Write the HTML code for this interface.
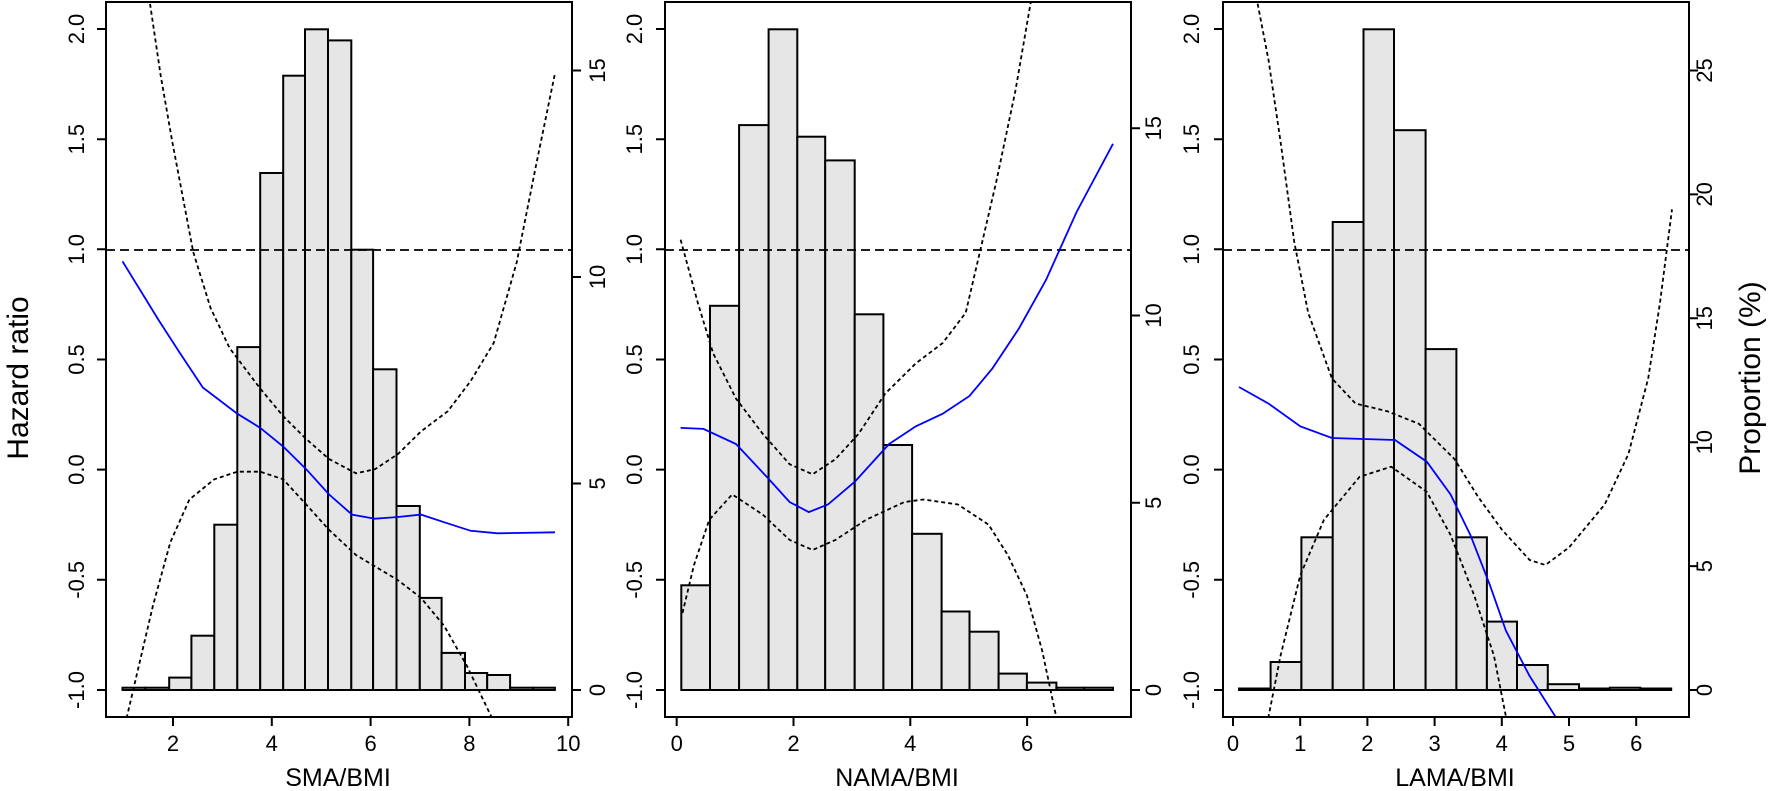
<!DOCTYPE html>
<html><head><meta charset="utf-8"><style>
html,body{margin:0;padding:0;background:#fff;}
svg{display:block;}
text{font-family:"Liberation Sans",Arial,sans-serif;fill:#000;}
</style></head><body>
<svg width="1770" height="791" viewBox="0 0 1770 791" xmlns="http://www.w3.org/2000/svg">
<defs>
<clipPath id="c1"><rect x="106" y="2" width="466" height="715"/></clipPath>
<clipPath id="c2"><rect x="665" y="2" width="466" height="715"/></clipPath>
<clipPath id="c3"><rect x="1223" y="2" width="466" height="715"/></clipPath>
</defs>
<g stroke="#000" stroke-width="2" fill="#e6e6e6">
<!-- panel1 bars -->
<rect x="122.5" y="687.7" width="22.9" height="2.3"/><rect x="145.4" y="687.7" width="23.8" height="2.3"/><rect x="169.2" y="677.6" width="22.2" height="12.4"/><rect x="191.4" y="635.7" width="22.9" height="54.3"/><rect x="214.3" y="524.7" width="23" height="165.3"/><rect x="237.3" y="347.1" width="22.9" height="342.9"/><rect x="260.2" y="173" width="23" height="517"/><rect x="283.2" y="75.7" width="21.8" height="614.3"/><rect x="305" y="29.3" width="23" height="660.7"/><rect x="328" y="40.4" width="23.3" height="649.6"/><rect x="351.3" y="249.7" width="21.8" height="440.3"/><rect x="373.1" y="369.3" width="23.4" height="320.7"/><rect x="396.5" y="506" width="23.3" height="184"/><rect x="419.8" y="597.9" width="21.8" height="92.1"/><rect x="441.6" y="652.9" width="23.4" height="37.1"/><rect x="465" y="673" width="22.2" height="17"/><rect x="487.2" y="675" width="22.9" height="15"/><rect x="510.1" y="687.7" width="23" height="2.3"/><rect x="533.1" y="687.7" width="21.8" height="2.3"/>
<!-- panel2 bars -->
<rect x="681.3" y="585.3" width="28.7" height="104.7"/><rect x="710" y="305.8" width="29.1" height="384.2"/><rect x="739.1" y="125.1" width="29.5" height="564.9"/><rect x="768.6" y="29.3" width="28.7" height="660.7"/><rect x="797.3" y="136.7" width="27.9" height="553.3"/><rect x="825.2" y="160.4" width="29.5" height="529.6"/><rect x="854.7" y="314.3" width="28.7" height="375.7"/><rect x="883.4" y="445" width="28.7" height="245"/><rect x="912.1" y="533.8" width="29.5" height="156.2"/><rect x="941.6" y="611.5" width="27.9" height="78.5"/><rect x="969.5" y="631.7" width="29.1" height="58.3"/><rect x="998.6" y="673.6" width="28.3" height="16.4"/><rect x="1026.9" y="682.6" width="29.5" height="7.4"/><rect x="1056.4" y="687.7" width="27.9" height="2.3"/><rect x="1084.3" y="687.7" width="28.7" height="2.3"/>
<!-- panel3 bars -->
<rect x="1239" y="688.5" width="31.6" height="1.5"/><rect x="1270.6" y="662" width="30.8" height="28"/><rect x="1301.4" y="537.3" width="31.3" height="152.7"/><rect x="1332.7" y="222" width="30.8" height="468"/><rect x="1363.5" y="29.3" width="30.5" height="660.7"/><rect x="1394" y="130.2" width="31.6" height="559.8"/><rect x="1425.6" y="349.1" width="30.8" height="340.9"/><rect x="1456.4" y="537.3" width="30.5" height="152.7"/><rect x="1486.9" y="621.6" width="30.1" height="68.4"/><rect x="1517" y="665" width="30.8" height="25"/><rect x="1547.8" y="684.2" width="31.2" height="5.8"/><rect x="1579" y="688.5" width="30.9" height="1.5"/><rect x="1609.9" y="687.7" width="30.4" height="2.3"/><rect x="1640.3" y="688.5" width="30.9" height="1.5"/>
</g>
<g fill="none" stroke-width="1.8">
<g clip-path="url(#c1)">
<line x1="106" y1="250" x2="572" y2="250" stroke="#000" stroke-dasharray="9,5"/>
<polyline stroke="#0000ff" points="122.5,261.4 158.8,320.4 179.9,353 202.8,387.5 237.3,413.7 260.2,427.8 283.2,446.5 306.2,469.2 329,494.4 352,514.6 375,518.7 398,517 421,514.6 444,522.2 470.7,530.8 497.5,533.3 555,532.3"/>
<polyline stroke="#000" stroke-dasharray="4,3" points="148,-10 160.7,75.7 172.2,141.3 193.3,252.3 210.5,307.8 229.6,348.1 260.2,388.5 283.2,416.2 306.2,439 329,459 356,473.3 375,469.2 398,454 421,431.4 447.8,411.2 470.7,381 493.7,343 516.7,262.4 535.8,166.5 555,73.2"/>
<polyline stroke="#000" stroke-dasharray="4,3" points="125,725 127,716.4 153,605.4 170.3,542.4 189.4,499.5 214.3,479.3 237.3,471.7 260.2,471.7 283.2,479.3 306.2,504.5 329,529.8 356,555 398,580.2 421,597.9 444,625.6 467,666 491,716 494,725"/>
</g>
<g clip-path="url(#c2)">
<line x1="665" y1="250" x2="1131" y2="250" stroke="#000" stroke-dasharray="9,5"/>
<polyline stroke="#0000ff" points="680.6,427.9 703.5,428.9 736,444 766.7,476.8 789.6,502 808.8,512.1 827.9,504.5 854.7,481.8 889.1,444 915.9,426.3 942.7,413.7 969.5,396 992.5,368.3 1019.2,328 1046,280 1076.6,212 1113,143.8"/>
<polyline stroke="#000" stroke-dasharray="4,3" points="680.6,239.7 697.8,302.7 713.1,353.2 736,398.6 762.8,433.9 789.6,464.2 812.6,474.3 835.5,459.1 858.5,433.9 885.3,393.5 915.9,363.3 942.7,343 965.7,312.8 981,247.2 996.3,181.6 1015.4,90.8 1030.7,2.5 1032,-10"/>
<polyline stroke="#000" stroke-dasharray="4,3" points="682.5,613 694,565 709.3,519.7 732.2,494.4 762.8,514.6 789.6,539.9 812.6,550 835.5,539.9 866.2,519.7 904.4,502 923.6,499.5 958,504.5 988.6,524.7 1007.8,555 1026.9,595.4 1042.2,650.8 1055.6,714 1057,725"/>
</g>
<g clip-path="url(#c3)">
<line x1="1223" y1="250" x2="1689" y2="250" stroke="#000" stroke-dasharray="9,5"/>
<polyline stroke="#0000ff" points="1239,387 1268.6,403.6 1300.3,426.3 1331.9,438 1363.5,439 1395,440 1426.8,461.7 1450.5,494.4 1470.3,534.8 1490,585.3 1505.9,630.7 1529.6,676 1555.3,716.4 1560,725"/>
<polyline stroke="#000" stroke-dasharray="4,3" points="1255,-10 1268.6,60.5 1280.5,141.3 1294.3,242.2 1308.2,312.8 1331.9,378.4 1355.6,403.6 1387.2,411.2 1418.9,423.8 1454.5,459.1 1478.2,497 1502,529.8 1529.6,560 1545.4,565 1569.1,547.4 1604.7,504.5 1628.4,454.1 1648.2,378.4 1660,302.7 1672,209.4"/>
<polyline stroke="#000" stroke-dasharray="4,3" points="1267,725 1268.6,716.4 1280.5,655.9 1300.3,575.2 1324,519.7 1359.6,476.8 1391.2,466.7 1426.8,491.9 1450.5,534.8 1474.2,595.4 1494,655.9 1505.9,716.4 1507,725"/>
</g>
</g>
<!-- boxes -->
<g fill="none" stroke="#000" stroke-width="2">
<rect x="106" y="2" width="466" height="715"/>
<rect x="665" y="2" width="466" height="715"/>
<rect x="1223" y="2" width="466" height="715"/>
<!-- left HR ticks -->
<path d="M106 29h-9M106 139.2h-9M106 249.3h-9M106 359.5h-9M106 469.6h-9M106 579.8h-9M106 690h-9"/>
<path d="M665 29h-9M665 139.2h-9M665 249.3h-9M665 359.5h-9M665 469.6h-9M665 579.8h-9M665 690h-9"/>
<path d="M1223 29h-9M1223 139.2h-9M1223 249.3h-9M1223 359.5h-9M1223 469.6h-9M1223 579.8h-9M1223 690h-9"/>
<!-- right ticks -->
<path d="M572 690h9M572 483.5h9M572 277h9M572 70.5h9"/>
<path d="M1131 690h9M1131 502.7h9M1131 315.5h9M1131 128.3h9"/>
<path d="M1689 690h9M1689 566.1h9M1689 442.2h9M1689 318.3h9M1689 194.4h9M1689 70.5h9"/>
<!-- bottom ticks -->
<path d="M173 717v9M271.8 717v9M370.6 717v9M469.4 717v9M568.2 717v9"/>
<path d="M676.7 717v9M793.5 717v9M910.3 717v9M1027.1 717v9"/>
<path d="M1233 717v9M1300.2 717v9M1367.4 717v9M1434.6 717v9M1501.8 717v9M1569 717v9M1636.2 717v9"/>
</g>
<g font-size="22" text-anchor="middle">
<!-- left HR labels -->
<g id="hr1">
<text transform="translate(84,29) rotate(-90)">2.0</text>
<text transform="translate(84,139.2) rotate(-90)">1.5</text>
<text transform="translate(84,249.3) rotate(-90)">1.0</text>
<text transform="translate(84,359.5) rotate(-90)">0.5</text>
<text transform="translate(84,469.6) rotate(-90)">0.0</text>
<text transform="translate(84,579.8) rotate(-90)">-0.5</text>
<text transform="translate(84,690) rotate(-90)">-1.0</text>
</g>
<text transform="translate(642,29) rotate(-90)">2.0</text>
<text transform="translate(642,139.2) rotate(-90)">1.5</text>
<text transform="translate(642,249.3) rotate(-90)">1.0</text>
<text transform="translate(642,359.5) rotate(-90)">0.5</text>
<text transform="translate(642,469.6) rotate(-90)">0.0</text>
<text transform="translate(642,579.8) rotate(-90)">-0.5</text>
<text transform="translate(642,690) rotate(-90)">-1.0</text>
<text transform="translate(1199,29) rotate(-90)">2.0</text>
<text transform="translate(1199,139.2) rotate(-90)">1.5</text>
<text transform="translate(1199,249.3) rotate(-90)">1.0</text>
<text transform="translate(1199,359.5) rotate(-90)">0.5</text>
<text transform="translate(1199,469.6) rotate(-90)">0.0</text>
<text transform="translate(1199,579.8) rotate(-90)">-0.5</text>
<text transform="translate(1199,690) rotate(-90)">-1.0</text>
<!-- right labels -->
<text transform="translate(605,690) rotate(-90)">0</text>
<text transform="translate(605,483.5) rotate(-90)">5</text>
<text transform="translate(605,277) rotate(-90)">10</text>
<text transform="translate(605,70.5) rotate(-90)">15</text>
<text transform="translate(1161,690) rotate(-90)">0</text>
<text transform="translate(1161,502.7) rotate(-90)">5</text>
<text transform="translate(1161,315.5) rotate(-90)">10</text>
<text transform="translate(1161,128.3) rotate(-90)">15</text>
<text transform="translate(1712,690) rotate(-90)">0</text>
<text transform="translate(1712,566.1) rotate(-90)">5</text>
<text transform="translate(1712,442.2) rotate(-90)">10</text>
<text transform="translate(1712,318.3) rotate(-90)">15</text>
<text transform="translate(1712,194.4) rotate(-90)">20</text>
<text transform="translate(1712,70.5) rotate(-90)">25</text>
<!-- bottom labels -->
<text x="173" y="751">2</text><text x="271.8" y="751">4</text><text x="370.6" y="751">6</text><text x="469.4" y="751">8</text><text x="568.2" y="751">10</text>
<text x="676.7" y="751">0</text><text x="793.5" y="751">2</text><text x="910.3" y="751">4</text><text x="1027.1" y="751">6</text>
<text x="1233" y="751">0</text><text x="1300.2" y="751">1</text><text x="1367.4" y="751">2</text><text x="1434.6" y="751">3</text><text x="1501.8" y="751">4</text><text x="1569" y="751">5</text><text x="1636.2" y="751">6</text>
</g>
<g font-size="25" text-anchor="middle">
<text x="338" y="786">SMA/BMI</text>
<text x="897" y="786">NAMA/BMI</text>
<text x="1455" y="786">LAMA/BMI</text>
</g>
<g font-size="30" text-anchor="middle">
<text transform="translate(28,378) rotate(-90)">Hazard ratio</text>
<text transform="translate(1760,378) rotate(-90)">Proportion (%)</text>
</g>
</svg>
</body></html>
